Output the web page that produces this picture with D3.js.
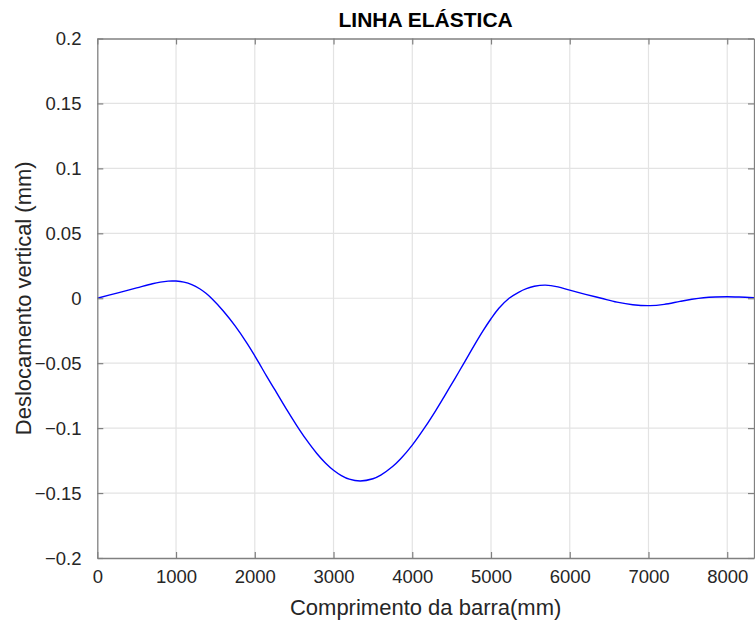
<!DOCTYPE html>
<html>
<head>
<meta charset="utf-8">
<script src="https://cdn.jsdelivr.net/npm/d3@7"></script>
<style>
  body { margin: 0; background: #fff; }
  text { font-family: "Liberation Sans", Arial, sans-serif; }
</style>
</head>
<body>
<div id="chart"></div>
<script>
var svgWidth = 755;
var svgHeight = 625;

var margin = { top: 38.5, right: 1, bottom: 67, left: 97.3 };

var width = svgWidth - margin.left - margin.right;
var height = svgHeight - margin.top - margin.bottom;

// data (mm, mm)
var posX = [0, 250, 500, 700, 800, 900, 950, 1000, 1100, 1200, 1300, 1380, 1450,
  1600, 1750, 1900, 2000, 2055, 2150, 2250, 2400, 2533, 2650, 2788, 2900, 3000,
  3100, 3200, 3340, 3500, 3600, 3750, 3850, 4000, 4164, 4300, 4400, 4540, 4651,
  4800, 4900, 5000, 5100, 5230, 5350, 5450, 5550, 5690, 5850, 6000, 6200, 6400,
  6600, 6800, 7020, 7200, 7400, 7550, 7700, 7850, 8000, 8150, 8340];
var deflection = [0, 0.0040, 0.0080, 0.0112, 0.0124, 0.01315, 0.0133, 0.01323, 0.0124,
  0.0105, 0.0073, 0.0038, 0, -0.0098, -0.0213, -0.0345, -0.0443, -0.050, -0.060,
  -0.0700, -0.0852, -0.0980, -0.1085, -0.1195, -0.1270, -0.1324, -0.1365, -0.1393,
  -0.1407, -0.1390, -0.1362, -0.1296, -0.1238, -0.1131, -0.0991, -0.0863, -0.0763,
  -0.0620, -0.0506, -0.0350, -0.0250, -0.0158, -0.0077, 0, 0.0046, 0.0074, 0.0092,
  0.0101, 0.0088, 0.0062, 0.0030, 0, -0.0030, -0.0050, -0.0057, -0.0047, -0.0024,
  -0.0008, 0.0004, 0.0010, 0.0012, 0.0010, 0.0005];

var xTicks = [0, 1000, 2000, 3000, 4000, 5000, 6000, 7000, 8000];
var yTicks = [-0.2, -0.15, -0.1, -0.05, 0, 0.05, 0.1, 0.15, 0.2];

var svg = d3.select("#chart")
  .append("svg")
  .attr("width", svgWidth)
  .attr("height", svgHeight);

var chartGroup = svg.append("g")
  .attr("transform", `translate(${margin.left}, ${margin.top})`);

var xScale = d3.scaleLinear().domain([0, 8340]).range([0, width]);
var yScale = d3.scaleLinear().domain([-0.2, 0.2]).range([height, 0]);

// grid
chartGroup.append("g").selectAll("line")
  .data(xTicks.slice(1))
  .enter().append("line")
  .attr("x1", d => xScale(d)).attr("x2", d => xScale(d))
  .attr("y1", 0).attr("y2", height)
  .attr("stroke", "#e3e3e3").attr("stroke-width", 1.2);

chartGroup.append("g").selectAll("line")
  .data(yTicks.slice(1, -1))
  .enter().append("line")
  .attr("x1", 0).attr("x2", width)
  .attr("y1", d => yScale(d)).attr("y2", d => yScale(d))
  .attr("stroke", "#e3e3e3").attr("stroke-width", 1.2);

// curve
var data = posX.map((x, i) => ({ x: x, y: deflection[i] }));
var line = d3.line()
  .x(d => xScale(d.x))
  .y(d => yScale(d.y))
  .curve(d3.curveCatmullRom.alpha(0.5));

chartGroup.append("path")
  .datum(data)
  .attr("fill", "none")
  .attr("stroke", "#0000ff")
  .attr("stroke-width", 1.4)
  .attr("d", line);

// axes (ticks inward, box)
var axisColor = "#808080";
var bottomAxis = d3.axisBottom(xScale).tickValues(xTicks).tickFormat(d3.format("d"))
  .tickSizeInner(-6).tickSizeOuter(0).tickPadding(14);
var leftAxis = d3.axisLeft(yScale).tickValues(yTicks).tickFormat(d => d3.format("")(+d.toFixed(2)))
  .tickSizeInner(-6).tickSizeOuter(0).tickPadding(14);
var topAxis = d3.axisTop(xScale).tickValues(xTicks).tickFormat("")
  .tickSizeInner(-6).tickSizeOuter(0);
var rightAxis = d3.axisRight(yScale).tickValues(yTicks).tickFormat("")
  .tickSizeInner(-6).tickSizeOuter(0);

var gx = chartGroup.append("g")
  .attr("transform", `translate(0, ${height})`)
  .call(bottomAxis);
var gy = chartGroup.append("g").call(leftAxis);
var gt = chartGroup.append("g").call(topAxis);
var gr = chartGroup.append("g").attr("transform", `translate(${width}, 0)`).call(rightAxis);

[gx, gy, gt, gr].forEach(function(g) {
  g.select(".domain").attr("stroke", axisColor).attr("stroke-width", 1.3);
  g.selectAll(".tick line").attr("stroke", axisColor).attr("stroke-width", 1.2);
  g.selectAll(".tick text")
    .attr("fill", "#262626")
    .style("font-size", "18.5px")
    .style("font-family", "'Liberation Sans', Arial, sans-serif");
});
gy.selectAll(".tick text").attr("dx", "-0.1em").attr("dy", "0.35em");
gx.selectAll(".tick text").attr("dy", "0.6em");

// title
svg.append("text")
  .attr("x", margin.left + width / 2)
  .attr("y", 27)
  .attr("text-anchor", "middle")
  .style("font-size", "21px")
  .style("font-weight", "bold")
  .attr("fill", "#000")
  .text("LINHA ELÁSTICA");

// x label
svg.append("text")
  .attr("x", margin.left + width / 2)
  .attr("y", 615)
  .attr("text-anchor", "middle")
  .style("font-size", "22px")
  .attr("fill", "#262626")
  .text("Comprimento da barra(mm)");

// y label
svg.append("text")
  .attr("transform", `translate(31, ${margin.top + height / 2}) rotate(-90)`)
  .attr("text-anchor", "middle")
  .style("font-size", "22px")
  .attr("fill", "#262626")
  .text("Deslocamento vertical (mm)");
</script>
</body>
</html>
